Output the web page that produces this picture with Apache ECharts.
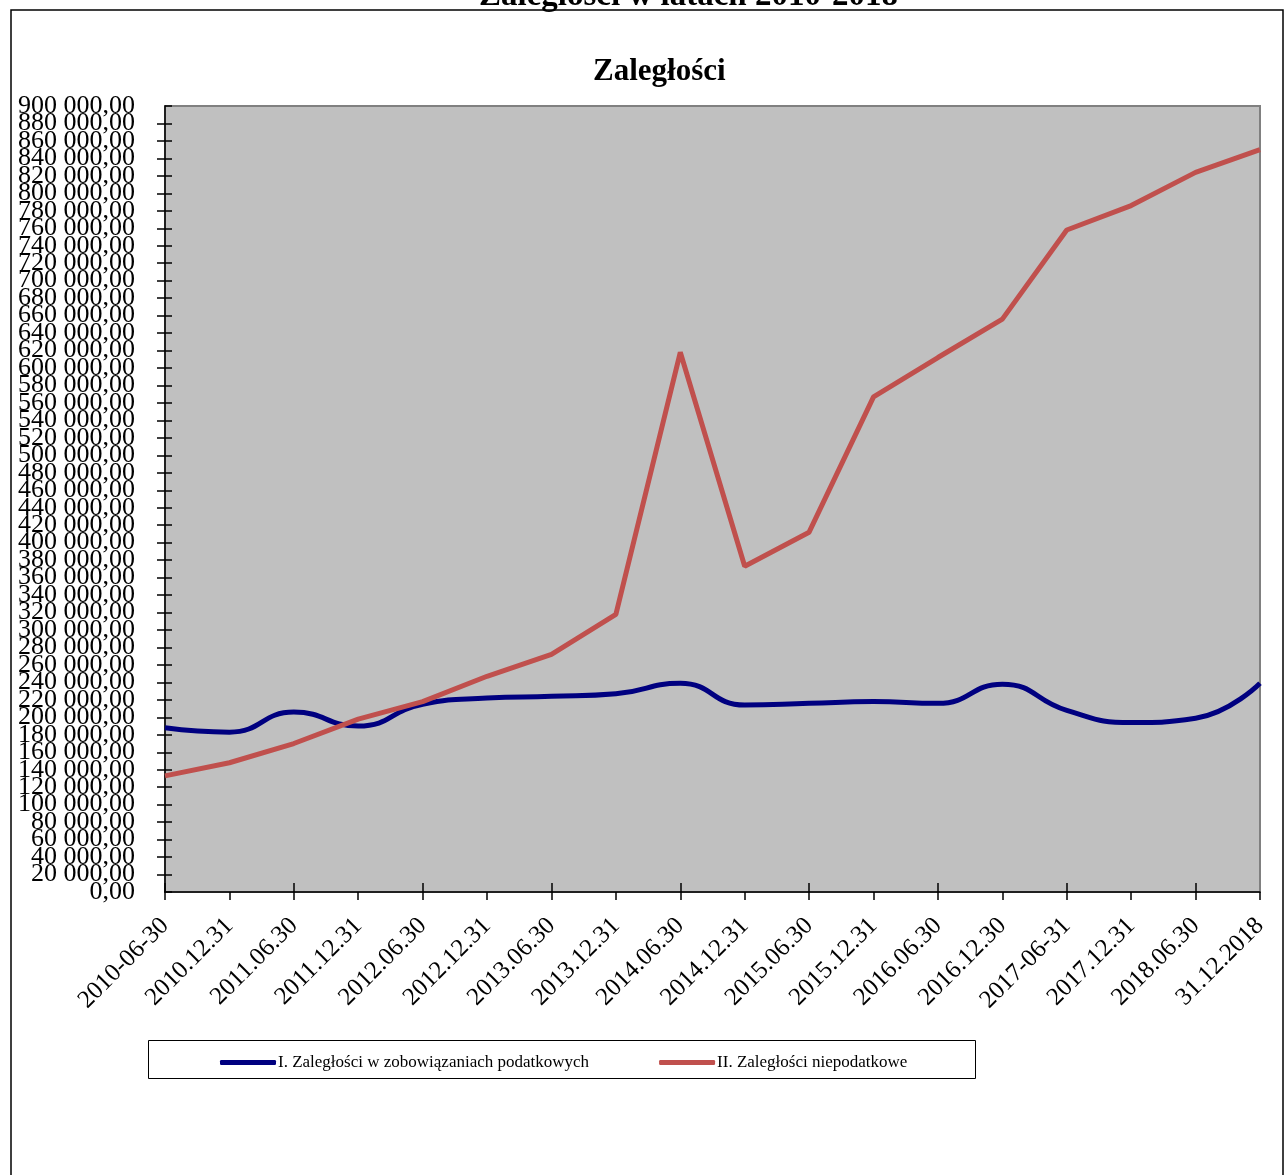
<!DOCTYPE html>
<html>
<head>
<meta charset="utf-8">
<script src="https://cdn.jsdelivr.net/npm/echarts@6/dist/echarts.min.js"></script>
<style>
html,body{margin:0;padding:0;background:#fff;}
#c{width:1286px;height:1175px;}
</style>
</head>
<body>
<div id="c"></div>
<script>
var categories = ['2010-06-30','2010.12.31','2011.06.30','2011.12.31','2012.06.30','2012.12.31','2013.06.30','2013.12.31','2014.06.30','2014.12.31','2015.06.30','2015.12.31','2016.06.30','2016.12.30','2017-06-31','2017.12.31','2018.06.30','31.12.2018'];
var seriesNames = ['I. Zaległości w zobowiązaniach podatkowych', 'II. Zaległości niepodatkowe'];
var taxArrears = [188000, 183000, 206000, 190000, 215000, 222000, 224000, 227000, 239000, 214000, 216000, 218000, 216000, 238000, 208000, 194000, 199000, 239000];
var nonTaxArrears = [133000, 148000, 170000, 198000, 218000, 247000, 272000, 318000, 618000, 373000, 412000, 567000, 612000, 656000, 758000, 786000, 824000, 850000];
var yMin = 0, yMax = 900000, yStep = 20000;
var pageTitle = 'Zaległości w latach 2010-2018';
var chartTitle = 'Zaległości';

function fmt(v){
  var s = Math.round(v).toString();
  var out = '';
  while (s.length > 3) { out = ' ' + s.slice(-3) + out; s = s.slice(0, -3); }
  return s + out + ',00';
}
function fmtEnds(v){
  return (v === yMin || v === yMax) ? fmt(v) : '';
}

var serif = '"Liberation Serif", "Times New Roman", serif';
var yLabelStyle = {margin: 30, fontFamily: serif, fontSize: 26, color: '#000'};
var chart = echarts.init(document.getElementById('c'));
chart.setOption({
  animation: false,
  backgroundColor: '#fff',
  title: [
    {text: pageTitle, left: 474, top: -25, textStyle: {fontFamily: serif, fontSize: 33, fontWeight: 'bold', color: '#000'}},
    {text: chartTitle, left: 588, top: 51, textStyle: {fontFamily: serif, fontSize: 31, fontWeight: 'bold', color: '#000'}}
  ],
  graphic: [
    {type: 'rect', shape: {x: 11, y: 10, width: 1272, height: 1200}, style: {fill: 'none', stroke: '#000', lineWidth: 1.5}, z: -1},
    {type: 'rect', shape: {x: 148.5, y: 1040.5, width: 827, height: 38}, style: {fill: '#fff', stroke: '#000', lineWidth: 1}, z: 0}
  ],
  legend: {
    left: 215, top: 1049, itemGap: 70, itemWidth: 56, itemHeight: 5, icon: 'roundRect',
    textStyle: {fontFamily: serif, fontSize: 17, color: '#000', padding: [0,0,0,-3]},
    data: seriesNames, z: 5
  },
  grid: {left: 165, right: 26, top: 106, bottom: 283, show: true, backgroundColor: '#c0c0c0', borderColor: '#808080', borderWidth: 2, containLabel: false},
  xAxis: [
    {type: 'category', data: categories, boundaryGap: false,
     axisLine: {lineStyle: {color: '#000', width: 1.5}},
     axisTick: {show: true, length: 8, inside: false, lineStyle: {color: '#000', width: 1.5}, alignWithLabel: true},
     axisLabel: {rotate: 45, margin: 30, interval: 0, fontFamily: serif, fontSize: 25, color: '#000'},
     splitLine: {show: false}},
    {type: 'category', data: categories, boundaryGap: false, position: 'bottom',
     axisLine: {show: false},
     axisTick: {show: true, length: 9, inside: true, lineStyle: {color: '#000', width: 1.5}},
     axisLabel: {show: false}, splitLine: {show: false}}
  ],
  yAxis: [
    {type: 'value', min: yMin, max: yMax, interval: yStep,
     axisLine: {show: true, lineStyle: {color: '#000', width: 1.5}},
     axisTick: {show: true, length: 8, lineStyle: {color: '#000', width: 1.5}},
     axisLabel: Object.assign({formatter: fmt, showMinLabel: false, showMaxLabel: false}, yLabelStyle),
     splitLine: {show: false}},
    {type: 'value', min: yMin, max: yMax, interval: yStep, position: 'left',
     axisLine: {show: false},
     axisTick: {show: true, inside: true, length: 7, lineStyle: {color: '#000', width: 1.5}},
     axisLabel: Object.assign({formatter: fmtEnds, showMinLabel: true, showMaxLabel: true}, yLabelStyle),
     splitLine: {show: false}}
  ],
  series: [
    {name: seriesNames[0], type: 'line', data: taxArrears, smooth: true, showSymbol: false, symbol: 'none',
     lineStyle: {color: '#000080', width: 5}, itemStyle: {color: '#000080'}, z: 3},
    {name: seriesNames[1], type: 'line', data: nonTaxArrears, smooth: false, showSymbol: false, symbol: 'none',
     lineStyle: {color: '#c0504d', width: 5}, itemStyle: {color: '#c0504d'}, z: 4}
  ]
});
</script>
</body>
</html>
